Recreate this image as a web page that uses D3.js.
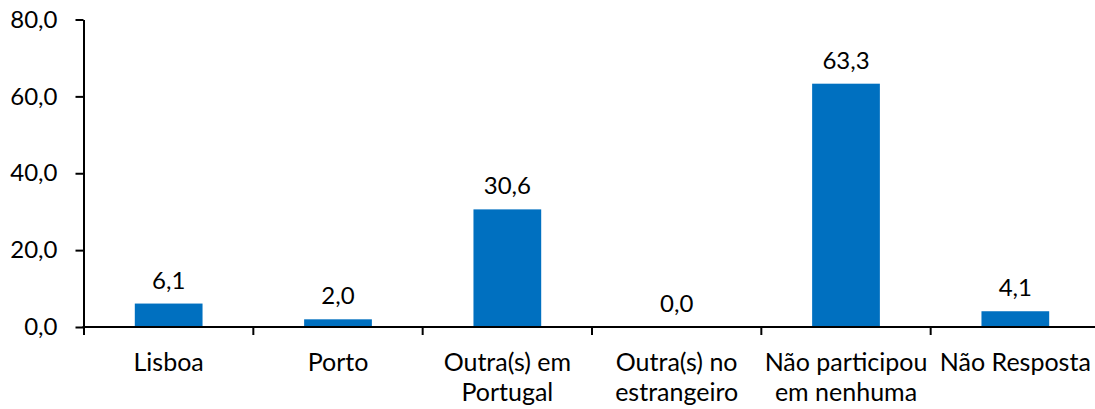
<!DOCTYPE html>
<html>
<head>
<meta charset="utf-8">
<script src="https://cdn.jsdelivr.net/npm/d3@7"></script>
<style>
  html, body { margin: 0; padding: 0; background: #fff; }
  svg { display: block; }
  text { font-family: Lato, "Open Sans", sans-serif; fill: #000; }
</style>
</head>
<body>
<svg id="chart" width="1095" height="409"></svg>
<script>
// Participation by location (%)
const categories = [
  "Lisboa",
  "Porto",
  "Outra(s) em\nPortugal",
  "Outra(s) no\nestrangeiro",
  "Não participou\nem nenhuma",
  "Não Resposta"
];
const values = [6.1, 2.0, 30.6, 0.0, 63.3, 4.1];
const yTicks = [0, 20, 40, 60, 80];

const svg = d3.select("#chart");
const W = 1095;
const plotLeft = 83.5, plotTop = 19.5, plotBottom = 327;
const numSize = 24, catSize = 25;
const fmt = v => v.toFixed(1).replace(".", ",");

const x = d3.scaleBand()
  .domain(categories)
  .range([84, 1100])
  .paddingInner(0.6)
  .paddingOuter(0.3);

const y = d3.scaleLinear().domain([0, 80]).range([plotBottom, plotTop]);

// Bars
svg.append("g").selectAll("rect")
  .data(values)
  .join("rect")
  .attr("x", (d, i) => x(categories[i]))
  .attr("y", d => y(d))
  .attr("width", x.bandwidth())
  .attr("height", d => y(0) - y(d))
  .attr("fill", "#0070C0");

// Value labels
svg.append("g").selectAll("text")
  .data(values)
  .join("text")
  .attr("x", (d, i) => x(categories[i]) + x.bandwidth() / 2)
  .attr("y", d => y(d) - 15)
  .attr("text-anchor", "middle")
  .attr("font-size", numSize)
  .text(d => fmt(d));

// Y axis
const yAxis = svg.append("g")
  .attr("transform", `translate(${plotLeft},0)`)
  .call(d3.axisLeft(y).tickValues(yTicks).tickFormat(fmt).tickSize(8).tickSizeOuter(0));
yAxis.select(".domain").attr("stroke", "#000").attr("stroke-width", 2);
yAxis.selectAll(".tick line").attr("stroke", "#000").attr("stroke-width", 2);
yAxis.selectAll(".tick text")
  .attr("x", -26)
  .attr("font-size", numSize)
  .attr("font-family", "Lato, sans-serif")
  .attr("fill", "#000");

// X axis with band-boundary ticks
const step = x.step();
const bounds = categories.map(c => x(c) - step * 0.3);
const xg = svg.append("g");
xg.append("line")
  .attr("x1", plotLeft - 1).attr("x2", W)
  .attr("y1", y(0)).attr("y2", y(0))
  .attr("stroke", "#000").attr("stroke-width", 2);
xg.selectAll("line.tk")
  .data(bounds)
  .join("line")
  .attr("class", "tk")
  .attr("x1", d => d).attr("x2", d => d)
  .attr("y1", y(0)).attr("y2", y(0) + 8)
  .attr("stroke", "#000").attr("stroke-width", 2);

// Category labels
const lbl = xg.selectAll("text.cat")
  .data(categories)
  .join("text")
  .attr("class", "cat")
  .attr("text-anchor", "middle")
  .attr("font-size", catSize)
  .attr("x", d => x(d) + x.bandwidth() / 2)
  .attr("y", 371);
lbl.selectAll("tspan")
  .data(d => d.split("\n").map(t => ({ t, cx: x(d) + x.bandwidth() / 2 })))
  .join("tspan")
  .attr("x", d => d.cx)
  .attr("dy", (d, i) => i === 0 ? 0 : 30)
  .text(d => d.t);
</script>
</body>
</html>
